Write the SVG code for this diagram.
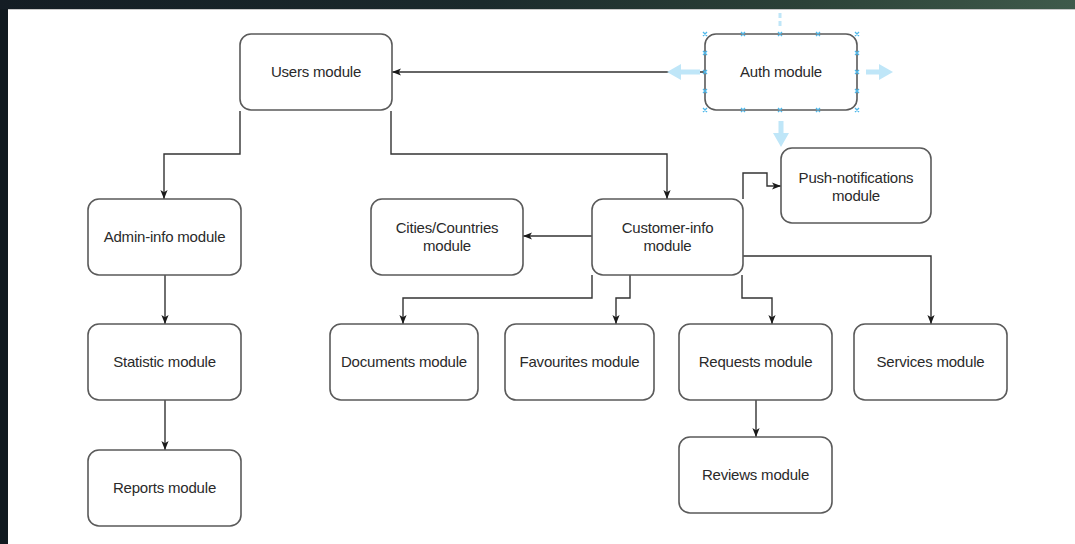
<svg xmlns="http://www.w3.org/2000/svg" width="1075" height="544" viewBox="0 0 1075 544">
  <defs>
    <linearGradient id="bg" x1="0" y1="0" x2="1" y2="0">
      <stop offset="0" stop-color="#141d24"/>
      <stop offset="0.45" stop-color="#1b2a2c"/>
      <stop offset="0.75" stop-color="#2c4238"/>
      <stop offset="1" stop-color="#3f5a4b"/>
    </linearGradient>
    <marker id="arr" viewBox="0 0 10 8" refX="10" refY="4" markerWidth="9" markerHeight="7.5" markerUnits="userSpaceOnUse" orient="auto">
      <path d="M0,0 L10,4 L0,8 L2.5,4 Z" fill="#1a1a1a"/>
    </marker>
    <style>
      .box { fill: #ffffff; stroke: #5a5a5a; stroke-width: 1.6; }
      .lbl { font-family: "Liberation Sans", Arial, sans-serif; font-size: 15px; fill: #2a2a2a; text-anchor: middle; letter-spacing: -0.2px; }
      .edge { fill: none; stroke: #333333; stroke-width: 1.4; marker-end: url(#arr); }
      .hint { fill: #bfe6f8; }
      .pt { stroke: #4fb8ea; stroke-width: 1.3; fill: none; }
    </style>
  </defs>

  <!-- backdrop and canvas -->
  <rect x="0" y="0" width="1075" height="544" fill="url(#bg)"/>
  <rect x="0" y="9" width="8" height="535" fill="#111a20"/>
  <rect x="8" y="9" width="1067" height="535" fill="#ffffff"/>
  <line x1="8" y1="9.5" x2="1075" y2="9.5" stroke="#c8c8c8" stroke-width="1"/>

  <!-- connectors -->
  <g id="connectors">
    <path class="edge" d="M705,72 H392"/>
    <path class="edge" d="M240,111 V154 H164 V199"/>
    <path class="edge" d="M391,111 V154 H667 V199"/>
    <path class="edge" d="M743,199 V173 H767 V186 H781"/>
    <path class="edge" d="M592,236 H523"/>
    <path class="edge" d="M592,275 V298 H403 V324"/>
    <path class="edge" d="M630,275 V298 H616 V324"/>
    <path class="edge" d="M742,275 V298 H772 V324"/>
    <path class="edge" d="M743,256 H931 V324"/>
    <path class="edge" d="M165,275 V324"/>
    <path class="edge" d="M165,400 V450"/>
    <path class="edge" d="M756,400 V437"/>
  </g>

  <!-- nodes -->
  <g id="users">
    <rect class="box" x="240" y="34" width="152" height="76" rx="11"/>
    <text class="lbl" x="316" y="77">Users module</text>
  </g>
  <g id="auth">
    <rect class="box" x="705" y="34" width="152" height="76" rx="11"/>
    <text class="lbl" x="781" y="77">Auth module</text>
  </g>
  <g id="push">
    <rect class="box" x="781" y="148" width="150" height="75" rx="11"/>
    <text class="lbl" x="856" y="183">Push-notifications</text>
    <text class="lbl" x="856" y="201">module</text>
  </g>
  <g id="admin">
    <rect class="box" x="88" y="199" width="153" height="76" rx="11"/>
    <text class="lbl" x="164.5" y="242">Admin-info module</text>
  </g>
  <g id="cities">
    <rect class="box" x="371" y="199" width="152" height="76" rx="11"/>
    <text class="lbl" x="447" y="233">Cities/Countries</text>
    <text class="lbl" x="447" y="251">module</text>
  </g>
  <g id="customer">
    <rect class="box" x="592" y="199" width="151" height="76" rx="11"/>
    <text class="lbl" x="667.5" y="233">Customer-info</text>
    <text class="lbl" x="667.5" y="251">module</text>
  </g>
  <g id="statistic">
    <rect class="box" x="88" y="324" width="153" height="76" rx="11"/>
    <text class="lbl" x="164.5" y="367">Statistic module</text>
  </g>
  <g id="documents">
    <rect class="box" x="330" y="324" width="148" height="76" rx="11"/>
    <text class="lbl" x="404" y="367">Documents module</text>
  </g>
  <g id="favourites">
    <rect class="box" x="505" y="324" width="149" height="76" rx="11"/>
    <text class="lbl" x="579.5" y="367">Favourites module</text>
  </g>
  <g id="requests">
    <rect class="box" x="679" y="324" width="153" height="76" rx="11"/>
    <text class="lbl" x="755.5" y="367">Requests module</text>
  </g>
  <g id="services">
    <rect class="box" x="854" y="324" width="153" height="76" rx="11"/>
    <text class="lbl" x="930.5" y="367">Services module</text>
  </g>
  <g id="reports">
    <rect class="box" x="88" y="450" width="153" height="76" rx="11"/>
    <text class="lbl" x="164.5" y="493">Reports module</text>
  </g>
  <g id="reviews">
    <rect class="box" x="679" y="437" width="153" height="76" rx="11"/>
    <text class="lbl" x="755.5" y="480">Reviews module</text>
  </g>

  <!-- editor hover hints around the selected shape -->
  <g id="auth-hints">
    <path class="hint" d="M667,72 L681,64 L681,69.5 L700,69.5 L700,74.5 L681,74.5 L681,80 Z"/>
    <path class="hint" d="M893,72 L879,64 L879,69.5 L866,69.5 L866,74.5 L879,74.5 L879,80 Z"/>
    <path class="hint" d="M781,147 L773,133 L778.5,133 L778.5,121 L783.5,121 L783.5,133 L789,133 Z"/>
    <path d="M780,13 V18 M780,21 V26" stroke="#bfe6f8" stroke-width="3"/>
    <g class="pt">
      <path d="M703,32 l4,4 m0,-4 l-4,4 M741,32 l4,4 m0,-4 l-4,4 M778,32 l4,4 m0,-4 l-4,4 M816,32 l4,4 m0,-4 l-4,4 M855,32 l4,4 m0,-4 l-4,4"/>
      <path d="M703,108 l4,4 m0,-4 l-4,4 M741,108 l4,4 m0,-4 l-4,4 M778,108 l4,4 m0,-4 l-4,4 M816,108 l4,4 m0,-4 l-4,4 M855,108 l4,4 m0,-4 l-4,4"/>
      <path d="M703,51 l4,4 m0,-4 l-4,4 M703,70 l4,4 m0,-4 l-4,4 M703,89 l4,4 m0,-4 l-4,4"/>
      <path d="M855,51 l4,4 m0,-4 l-4,4 M855,70 l4,4 m0,-4 l-4,4 M855,89 l4,4 m0,-4 l-4,4"/>
    </g>
  </g>
</svg>
